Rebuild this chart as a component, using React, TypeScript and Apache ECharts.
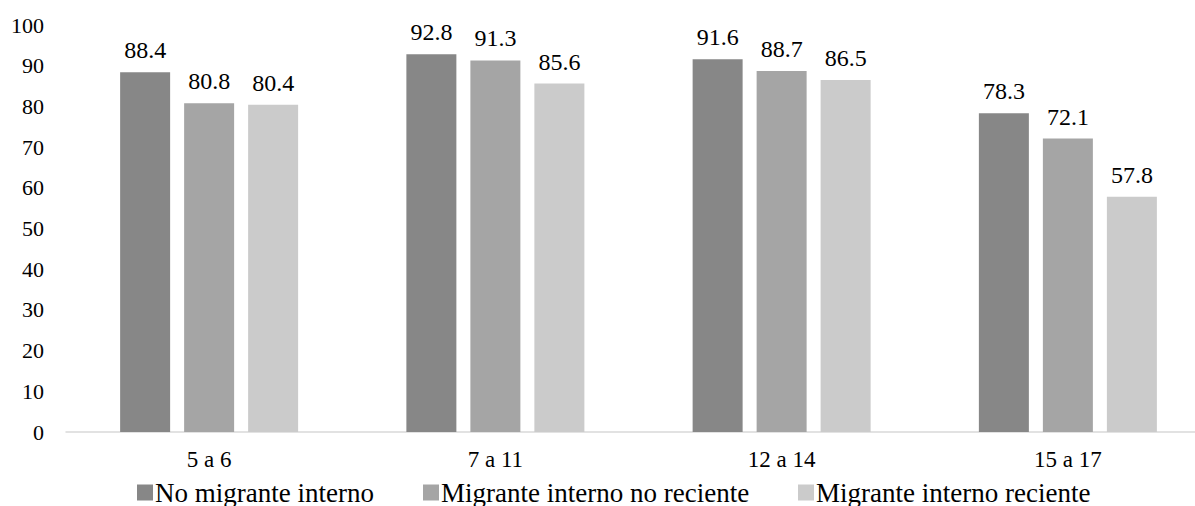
import React, { useEffect, useRef } from "react";
import * as echarts from "echarts";

const categories = ["5 a 6", "7 a 11", "12 a 14", "15 a 17"];
const seriesNames = ["No migrante interno", "Migrante interno no reciente", "Migrante interno reciente"];
const noMigrante = [88.4, 92.8, 91.6, 78.3];
const migranteNoReciente = [80.8, 91.3, 88.7, 72.1];
const migranteReciente = [80.4, 85.6, 86.5, 57.8];
const colors = ["#878787", "#a5a5a5", "#cbcbcb"];
const legendLefts = [137, 423, 798];

export default function App() {
  const ref = useRef<HTMLDivElement>(null);
  useEffect(() => {
    if (!ref.current) return;
    const chart = echarts.init(ref.current, undefined, { renderer: "svg" });
    const font = "Times New Roman";
    const data = [noMigrante, migranteNoReciente, migranteReciente];
    chart.setOption({
      animation: false,
      textStyle: { fontFamily: font },
      grid: { left: 66, top: 25, right: 0, bottom: 74, containLabel: false },
      legend: seriesNames.map((n, i) => ({
        data: [n],
        left: legendLefts[i],
        top: 479,
        padding: 0,
        itemWidth: 16,
        itemHeight: 16,
        icon: "rect",
        textStyle: { fontFamily: font, fontSize: 27, color: "#000", padding: [0, 0, 0, -3] },
      })),
      xAxis: {
        type: "category",
        data: categories,
        axisLine: { lineStyle: { color: "#d9d9d9", width: 1.5 } },
        axisTick: { show: false },
        axisLabel: { fontFamily: font, fontSize: 23, color: "#000", margin: 16 },
      },
      yAxis: {
        type: "value",
        min: 0,
        max: 100,
        interval: 10,
        splitLine: { show: false },
        axisLine: { show: false },
        axisTick: { show: false },
        axisLabel: { fontFamily: font, fontSize: 22, color: "#000", margin: 22 },
      },
      series: seriesNames.map((n, i) => ({
        name: n,
        type: "bar",
        data: data[i],
        barWidth: 50,
        barGap: "28%",
        itemStyle: { color: colors[i] },
        label: {
          show: true,
          position: "top",
          distance: 10,
          fontFamily: font,
          fontSize: 24,
          color: "#000",
          formatter: (p: any) => p.value.toFixed(1),
        },
      })),
    });
    return () => chart.dispose();
  }, []);
  return (
    <div style={{ position: "absolute", left: 0, top: 0, width: 1195, height: 506, overflow: "hidden" }}>
      <div ref={ref} style={{ width: 1211, height: 506 }} />
    </div>
  );
}
